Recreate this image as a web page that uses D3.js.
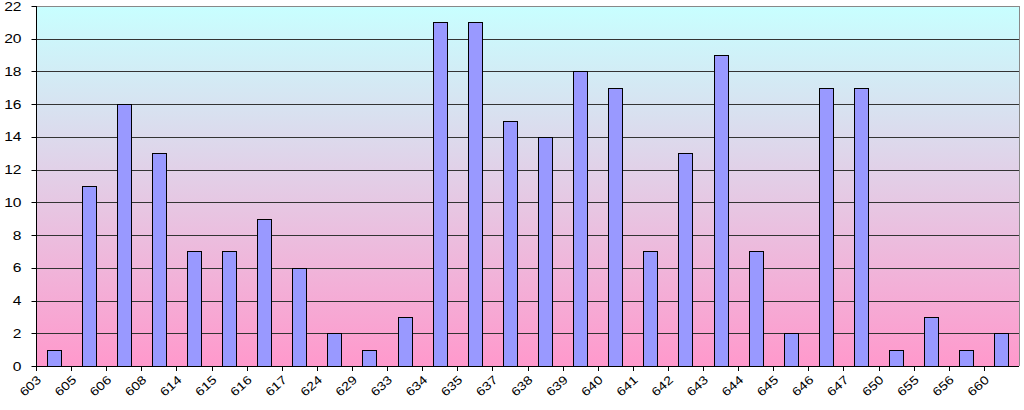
<!DOCTYPE html>
<html><head><meta charset="utf-8">
<script src="https://cdn.jsdelivr.net/npm/d3@7"></script>
<style>body{margin:0;background:#fff}svg{display:block}text{font-family:"Liberation Sans",Arial,sans-serif}</style>
</head><body>
<svg id="c" width="1024" height="410"></svg>
<script>
const categories = ["603","605","606","608","614","615","616","617","624","629","633","634","635","637","638","639","640","641","642","643","644","645","646","647","650","655","656","660"];
const values = [1,11,16,13,7,7,9,6,2,1,3,21,21,15,14,18,17,7,13,19,7,2,17,17,1,3,1,2];
const yTicks = [0,2,4,6,8,10,12,14,16,18,20,22];

const svg = d3.select("#c");
const L = 36, R = 1019, T = 6, B = 366;
const x = d3.scaleBand().domain(categories).range([L, R]).paddingInner(0).paddingOuter(0);
const y = d3.scaleLinear().domain([0, 22]).range([B, T]);

const defs = svg.append("defs");
const g = defs.append("linearGradient").attr("id","bg").attr("x1",0).attr("y1",0).attr("x2",0).attr("y2",1);
g.append("stop").attr("offset","0%").attr("stop-color","#c8ffff");
g.append("stop").attr("offset","100%").attr("stop-color","#ff99cc");

svg.append("rect").attr("x",L).attr("y",T).attr("width",R-L).attr("height",B-T).attr("fill","url(#bg)");

svg.append("g").selectAll("line").data(yTicks.filter(d=>d>0)).join("line")
  .attr("x1",L).attr("x2",R).attr("y1",d=>Math.round(y(d))+0.5).attr("y2",d=>Math.round(y(d))+0.5)
  .attr("stroke",d=>d===22?"#888":"#333").attr("stroke-width",1);
svg.append("line").attr("x1",R+0.5).attr("x2",R+0.5).attr("y1",T).attr("y2",B).attr("stroke","#888");

const bw = x.bandwidth()*0.4;
svg.append("g").selectAll("rect").data(values).join("rect")
  .attr("x",(d,i)=>Math.round(x(categories[i]) + (x.bandwidth()-bw)/2)+0.5)
  .attr("y",d=>Math.round(y(d))+0.5)
  .attr("width",Math.round(bw))
  .attr("height",d=>Math.round(y(0))-Math.round(y(d)))
  .attr("fill","#9999ff").attr("stroke","#000").attr("stroke-width",1);

const ya = svg.append("g").attr("transform",`translate(${L+0.5},0)`);
ya.append("line").attr("y1",T).attr("y2",B).attr("stroke","#000");
ya.selectAll("line.t").data(yTicks).join("line").attr("class","t")
  .attr("x1",-5).attr("x2",0).attr("y1",d=>Math.round(y(d))+0.5).attr("y2",d=>Math.round(y(d))+0.5).attr("stroke","#000");
ya.selectAll("text").data(yTicks).join("text")
  .attr("transform",d=>`translate(-15,${y(d)+4.5}) scale(1.3,1)`)
  .attr("text-anchor","end").attr("font-size",12).attr("fill","#000").text(d=>d);

const xa = svg.append("g");
xa.append("line").attr("x1",L).attr("x2",R).attr("y1",B+0.5).attr("y2",B+0.5).attr("stroke","#000");
xa.selectAll("line.t").data(categories).join("line").attr("class","t")
  .attr("x1",d=>Math.round(x(d))+0.5).attr("x2",d=>Math.round(x(d))+0.5).attr("y1",B).attr("y2",B+5).attr("stroke","#000");
xa.selectAll("text").data(categories).join("text")
  .attr("transform",d=>`translate(${x(d)+6},${B+15}) rotate(-42) scale(1.2,1)`)
  .attr("text-anchor","end").attr("font-size",12).attr("fill","#000").text(d=>d);
</script>
</body></html>
